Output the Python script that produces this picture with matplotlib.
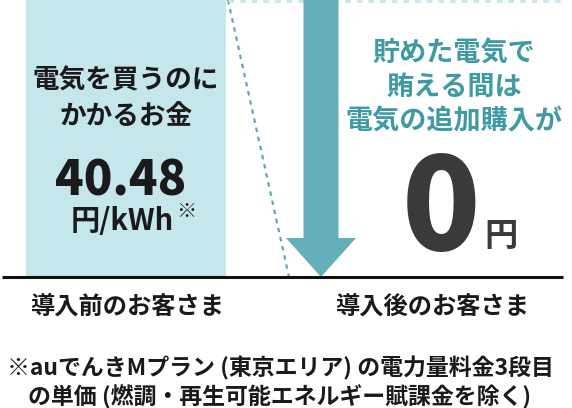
import matplotlib.pyplot as plt

plt.rcParams['font.family'] = ['Noto Sans CJK JP', 'DejaVu Sans']

# data
categories = ['導入前のお客さま', '導入後のお客さま']
prices = [40.48, 0]
value_labels = ['40.48', '0']
left_caption = '電気を買うのに\nかかるお金'
right_caption = '貯めた電気で\n賄える間は\n電気の追加購入が'
note = '※auでんきMプラン (東京エリア) の電力量料金3段目\nの単価 (燃調・再生可能エネルギー賦課金を除く)'

W, H = 572, 408
fig = plt.figure(figsize=(W / 100, H / 100), dpi=100)
ax = fig.add_axes([0, 1 - 277 / H, 1, 277 / H])

px = 269.0  # pixels per category step
x0 = 126.0
ax.set_xlim(-x0 / px, (W - x0) / px)
ax.set_ylim(0, prices[0])
ax.axis('off')

ax.bar([0], [prices[0]], width=200 / px, color='#c5e7ec', zorder=1)

# baseline
ax.plot([-124 / px, (563 - x0) / px], [0, 0], color='#111111', lw=2.2,
        clip_on=False, solid_capstyle='butt', zorder=4)

# dotted guide lines
xr = (228 - x0) / px
ax.plot([xr, (289 - x0) / px], [prices[0], 0], color='#5aaab4', lw=1.6,
        ls=(0, (2, 2.2)), zorder=2)
ax.plot([xr, (560 - x0) / px], [prices[0] - 0.1, prices[0] - 0.1], color='#c5e7ec',
        lw=2.0, ls=(0, (2, 2.2)), zorder=2, clip_on=False)

# arrow down to zero
xa = (321 - x0) / px
ax.arrow(xa, prices[0], 0, prices[1] - prices[0], width=35 / px, head_width=70 / px,
         head_length=39 / 277 * prices[0], length_includes_head=True,
         color='#64b0ba', lw=0, zorder=3)

# left texts
fig.text(126 / W, 1 - 99 / H, left_caption, ha='center', va='center', fontsize=19.2,
         fontweight='bold', color='#1a1a1a', linespacing=1.42)
fig.text(121 / W, 1 - 181 / H, value_labels[0], ha='center', va='center', fontsize=34,
         fontweight='black', color='#1a1a1a')
fig.text(122 / W, 1 - 221 / H, '円/kWh', ha='center', va='center', fontsize=21,
         fontweight='bold', color='#1a1a1a')
fig.text(176 / W, 1 - 211 / H, '※', ha='left', va='center', fontsize=14.5,
         color='#1a1a1a')

# right texts
fig.text(454 / W, 1 - 87 / H, right_caption, ha='center', va='center', fontsize=19.5,
         fontweight='bold', color='#3f9aa3', linespacing=1.27)
fig.text(441 / W, 1 - 212 / H, value_labels[1], ha='center', va='center', fontsize=93,
         fontweight='black', color='#3a3a3a')
fig.text(501 / W, 1 - 236 / H, '円', ha='center', va='center', fontsize=24,
         fontweight='bold', color='#3a3a3a')

# category labels
for i, cat in enumerate(categories):
    lx = [127.5, 432.5][i]
    fig.text(lx / W, 1 - 307 / H, cat, ha='center', va='center', fontsize=17.5,
             fontweight='bold', color='#1a1a1a')

fig.text(280 / W, 1 - 383 / H, note, ha='center', va='center', fontsize=16.5,
         fontweight='bold', color='#1a1a1a', linespacing=1.2)

fig.savefig('out.png', dpi=100)
